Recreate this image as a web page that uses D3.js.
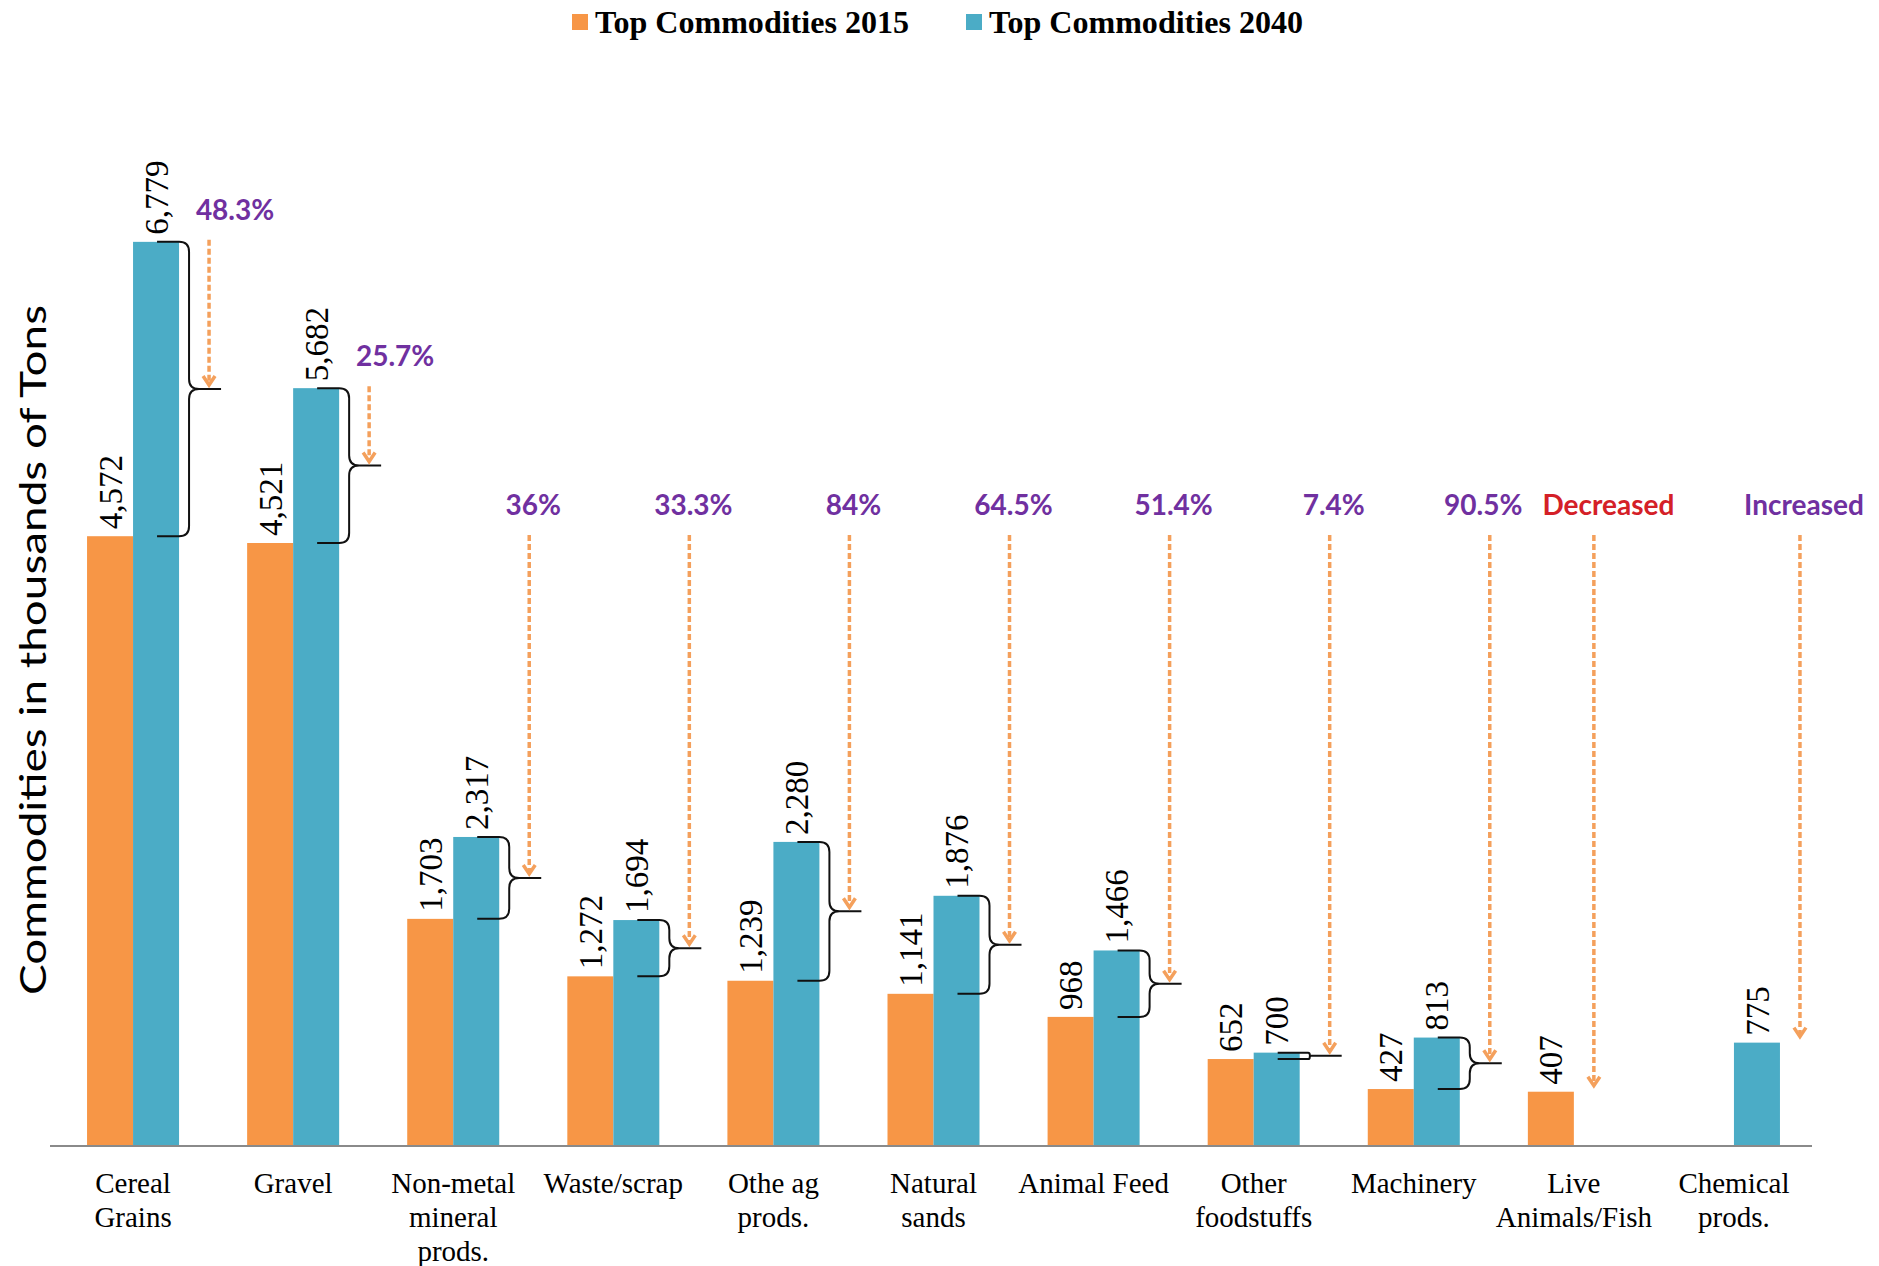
<!DOCTYPE html>
<html>
<head>
<meta charset="utf-8">
<script src="https://cdn.jsdelivr.net/npm/d3@7"></script>
<style>
  html, body { margin: 0; padding: 0; background: #fff; }
  svg { display: block; }
</style>
</head>
<body>
<svg id="chart" width="1879" height="1266"></svg>
<script>
// ---- data ----
const categories = ["Cereal Grains", "Gravel", "Non-metal mineral prods.", "Waste/scrap", "Othe ag prods.",
  "Natural sands", "Animal Feed", "Other foodstuffs", "Machinery", "Live Animals/Fish", "Chemical prods."];
const categoryLines = [["Cereal", "Grains"], ["Gravel"], ["Non-metal", "mineral", "prods."], ["Waste/scrap"],
  ["Othe ag", "prods."], ["Natural", "sands"], ["Animal Feed"], ["Other", "foodstuffs"], ["Machinery"],
  ["Live", "Animals/Fish"], ["Chemical", "prods."]];
const seriesNames = ["Top Commodities 2015", "Top Commodities 2040"];
const values2015 = [4572, 4521, 1703, 1272, 1239, 1141, 968, 652, 427, 407, null];
const values2040 = [6779, 5682, 2317, 1694, 2280, 1876, 1466, 700, 813, null, 775];
const changeLabels = ["48.3%", "25.7%", "36%", "33.3%", "84%", "64.5%", "51.4%", "7.4%", "90.5%", "Decreased", "Increased"];
const yDomain = [0, 8000];

// ---- styles ----
const C2015 = "#F79646", C2040 = "#4BACC6";
const PURPLE = "#7030A0", RED = "#D42027", ARROW = "#F4A05C";
const serif = "'Liberation Serif', 'Times New Roman', serif";
const sans = "Lato, 'Open Sans', sans-serif";

const svg = d3.select("#chart");
const x0 = d3.scaleBand().domain(categories).range([53, 1814]).paddingInner(0).paddingOuter(0);
const x1 = d3.scaleBand().domain(["2015", "2040"]).range([0, x0.bandwidth()]).paddingInner(0).paddingOuter(0.74);
const y = d3.scaleLinear().domain(yDomain).range([1146, 79]);
const fmt = d3.format(",");

const rows = categories.map((c, i) => ({ c, i, v15: values2015[i], v40: values2040[i], lab: changeLabels[i] }));

// ---- bars ----
const g = svg.append("g");
rows.forEach(d => {
  [["2015", d.v15, C2015], ["2040", d.v40, C2040]].forEach(([k, v, col]) => {
    if (v == null) return;
    const bx = x0(d.c) + x1(k);
    g.append("rect")
      .attr("x", bx).attr("y", y(v))
      .attr("width", x1.bandwidth()).attr("height", y(0) - y(v))
      .attr("fill", col);
    g.append("text")
      .attr("transform", `translate(${bx + x1.bandwidth() / 2},${y(v) - 7}) rotate(-90)`)
      .attr("dy", "0.35em")
      .attr("text-anchor", "start")
      .attr("font-family", serif).attr("font-size", 33).attr("fill", "#000")
      .text(fmt(v));
  });
});

// ---- x axis ----
const xAxis = svg.append("g").attr("transform", `translate(0,${y(0)})`)
  .call(d3.axisBottom(x0).tickSize(0).tickFormat(""));
xAxis.select(".domain").attr("stroke", "#8a8a8a").attr("stroke-width", 2)
  .attr("d", `M50,0H1812`);
rows.forEach(d => {
  const cx = x0(d.c) + x0.bandwidth() / 2;
  const t = svg.append("text")
    .attr("x", cx).attr("y", 1193)
    .attr("text-anchor", "middle")
    .attr("font-family", serif).attr("font-size", 29).attr("fill", "#000");
  categoryLines[d.i].forEach((line, j) => {
    t.append("tspan").attr("x", cx).attr("dy", j === 0 ? 0 : 34).text(line);
  });
});

// ---- braces, arrows, change labels ----
function bracePath(R, y1, y2) {
  const xb = R + 10, xs = R - 22, xt = R + 42;
  const ym = (y1 + y2) / 2;
  const r = Math.min(10, (y2 - y1) / 4);
  return `M${xs},${y1}H${xb - r}Q${xb},${y1} ${xb},${y1 + r}V${ym - r}Q${xb},${ym} ${xb + r},${ym}` +
    `Q${xb},${ym} ${xb},${ym + r}V${y2 - r}Q${xb},${y2} ${xb - r},${y2}H${xs}M${xb + r},${ym}H${xt}`;
}

const FIXED_BASE = 515;
const ann = svg.append("g");
const labelNodes = [];
rows.forEach(d => {
  let R, yEnd, topV;
  if (d.v15 != null && d.v40 != null) {
    R = x0(d.c) + x1("2040") + x1.bandwidth();
    const y1 = y(d.v40), y2 = y(d.v15);
    ann.append("path").attr("d", bracePath(R, y1, y2))
      .attr("fill", "none").attr("stroke", "#111").attr("stroke-width", 2);
    yEnd = (y1 + y2) / 2 - 4;
    topV = Math.max(d.v15, d.v40);
  } else {
    const k = d.v15 != null ? "2015" : "2040";
    const v = d.v15 != null ? d.v15 : d.v40;
    R = x0(d.c) + x1(k) + x1.bandwidth() - 10;
    yEnd = y(v) - 6;
    topV = v;
  }
  const ax = R + 30;
  const overBar = y(topV) - 22 < FIXED_BASE;
  const base = overBar ? y(topV) - 22 : FIXED_BASE;
  const yStart = base + 20;
  ann.append("line").attr("x1", ax).attr("x2", ax).attr("y1", yStart).attr("y2", yEnd - 2)
    .attr("stroke", ARROW).attr("stroke-width", 3.5).attr("stroke-dasharray", "6,3");
  ann.append("path").attr("d", `M${ax - 6},${yEnd - 9}L${ax},${yEnd}L${ax + 6},${yEnd - 9}`)
    .attr("fill", "none").attr("stroke", ARROW).attr("stroke-width", 3.5);
  const t = ann.append("text")
    .attr("x", ax + (overBar ? 26 : 4)).attr("y", base)
    .attr("text-anchor", "middle")
    .attr("font-family", sans).attr("font-weight", 700).attr("font-size", 28)
    .attr("fill", d.lab === "Decreased" ? RED : PURPLE)
    .text(d.lab);
  if (!overBar) labelNodes.push(t);
});
// spread labels on the common level so they keep a gap
for (let k = 1; k < labelNodes.length; k++) {
  const a = labelNodes[k - 1], b = labelNodes[k];
  const ba = a.node().getBBox(), bb = b.node().getBBox();
  const gap = bb.x - (ba.x + ba.width);
  const need = 20 - gap;
  if (need > 0) {
    a.attr("x", +a.attr("x") - need / 2);
    b.attr("x", +b.attr("x") + need / 2);
  }
}

// ---- y axis title ----
svg.append("text")
  .attr("transform", `translate(46,650) rotate(-90)`)
  .attr("text-anchor", "middle")
  .attr("font-family", sans).attr("font-size", 36).attr("fill", "#000")
  .attr("textLength", 690).attr("lengthAdjust", "spacingAndGlyphs")
  .text("Commodities in thousands of Tons");

// ---- legend ----
const legendX = [572, 966];
seriesNames.forEach((s, i) => {
  svg.append("rect").attr("x", legendX[i]).attr("y", 14).attr("width", 16).attr("height", 16)
    .attr("fill", i === 0 ? C2015 : C2040);
  svg.append("text").attr("x", legendX[i] + 23).attr("y", 33)
    .attr("font-family", serif).attr("font-weight", 700).attr("font-size", 31).attr("fill", "#000")
    .attr("textLength", 314).attr("lengthAdjust", "spacingAndGlyphs")
    .text(s);
});
</script>
</body>
</html>
